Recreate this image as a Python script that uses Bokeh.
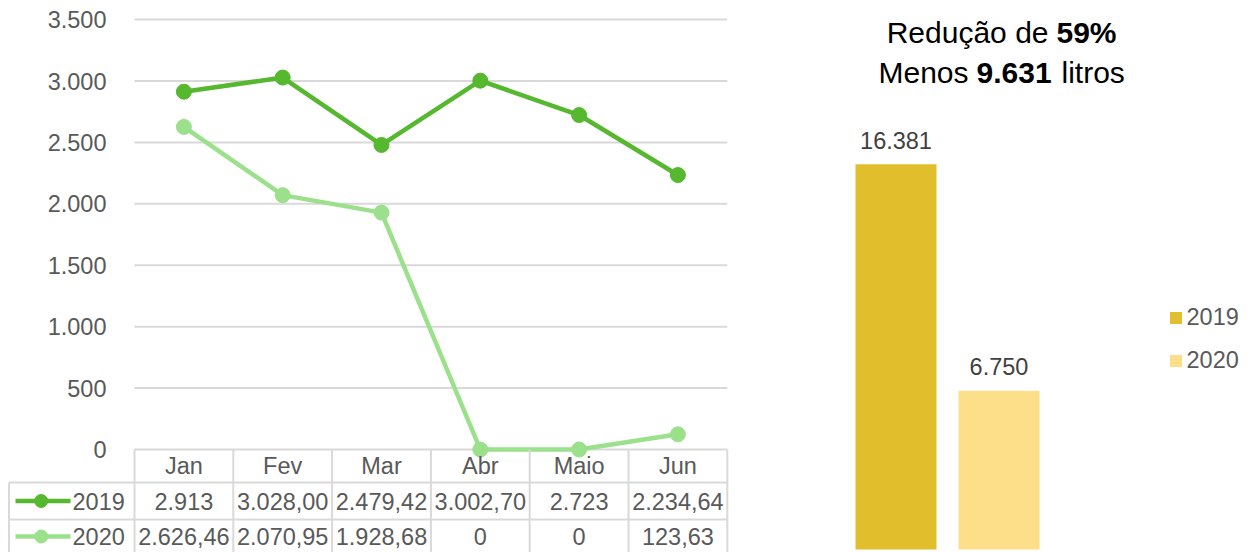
from bokeh.plotting import figure
from bokeh.layouts import row
from bokeh.models import Range1d, ColumnDataSource, Label, Legend, LegendItem
from bokeh.core.properties import value
from bokeh.embed import file_html
from bokeh.resources import INLINE

# ---------------- data ----------------
months = ["Jan", "Fev", "Mar", "Abr", "Maio", "Jun"]
series_names = ["2019", "2020"]
values_2019 = [2913, 3028.00, 2479.42, 3002.70, 2723, 2234.64]
values_2020 = [2626.46, 2070.95, 1928.68, 0, 0, 123.63]
table_2019 = ["2.913", "3.028,00", "2.479,42", "3.002,70", "2.723", "2.234,64"]
table_2020 = ["2.626,46", "2.070,95", "1.928,68", "0", "0", "123,63"]
y_ticks = [0, 500, 1000, 1500, 2000, 2500, 3000, 3500]
y_tick_labels = ["0", "500", "1.000", "1.500", "2.000", "2.500", "3.000", "3.500"]
bar_years = ["2019", "2020"]
bar_totals = [16381, 6750]


def fmt(v):
    return f"{v:,}".replace(",", ".")


reduction = bar_totals[0] - bar_totals[1]
reduction_pct = round(100 * reduction / bar_totals[0])

# ---------------- style ----------------
FONT = value("Liberation Sans")
FS = "23.5px"
GRAY = "#595959"
DARK = "#404040"
GRID = "#d9d9d9"
C19 = "#55B82F"
C20 = "#9BE08B"
BAR_COLORS = ["#E1BF2C", "#FDDF8A"]
H = 552

# ---------------- left: line chart + data table ----------------
W_L = 743
PX_COL = 98.8       # pixels per month column
PX_UNIT = 0.12283   # pixels per litre
X0 = 134            # x=0 in pixels
Y0 = 449            # value 0 in pixels (from top)


def lx(px):
    return (px - X0) / PX_COL


def ly(py):
    return (Y0 - py) / PX_UNIT


left = figure(width=W_L, height=H, output_backend="svg", toolbar_location=None,
              x_range=Range1d(-X0 / PX_COL, (W_L - X0) / PX_COL),
              y_range=Range1d(-(H - Y0) / PX_UNIT, Y0 / PX_UNIT),
              x_axis_location=None, y_axis_location=None, min_border=0)
left.grid.visible = False
left.outline_line_color = None
left.background_fill_color = "white"
left.border_fill_color = "white"

n = len(months)
xs = [i + 0.5 for i in range(n)]

# gridlines + tick labels
left.segment(x0=[0] * len(y_ticks), x1=[n] * len(y_ticks), y0=y_ticks, y1=y_ticks,
             line_color=GRID, line_width=2)
left.text(x=[lx(106)] * len(y_ticks), y=y_ticks, text=y_tick_labels,
          text_align="right", text_baseline="middle", text_font=FONT,
          text_font_size=FS, text_color=GRAY)

# series
left.line(xs, values_2019, line_color=C19, line_width=4.5)
left.scatter(xs, values_2019, size=15, fill_color=C19, line_color=C19)
left.line(xs, values_2020, line_color=C20, line_width=4.5)
left.scatter(xs, values_2020, size=15, fill_color=C20, line_color=C20)

# data table
y_bottom = left.y_range.start
row1 = ly(482)
row2 = ly(519)
x_leg = lx(8.5)
left.segment(x0=list(range(n + 1)), x1=list(range(n + 1)),
             y0=[0] * (n + 1), y1=[y_bottom] * (n + 1), line_color=GRID, line_width=2)
left.segment(x0=[x_leg, x_leg], x1=[n, n], y0=[row1, row2], y1=[row1, row2],
             line_color=GRID, line_width=2)
left.segment(x0=[x_leg], x1=[x_leg], y0=[row1], y1=[y_bottom], line_color=GRID, line_width=2)

left.text(x=xs, y=[ly(465.5)] * n, text=months, text_align="center", text_baseline="middle",
          text_font=FONT, text_font_size=FS, text_color=GRAY)
left.text(x=xs, y=[ly(500.5)] * n, text=table_2019, text_align="center", text_baseline="middle",
          text_font=FONT, text_font_size=FS, text_color=GRAY)
left.text(x=xs, y=[ly(536)] * n, text=table_2020, text_align="center", text_baseline="middle",
          text_font=FONT, text_font_size=FS, text_color=GRAY)

# legend keys inside table
for name, yy, col in [(series_names[0], ly(500.5), C19), (series_names[1], ly(536), C20)]:
    left.segment(x0=[lx(15)], x1=[lx(70)], y0=[yy], y1=[yy], line_color=col, line_width=4.5)
    left.scatter([lx(40.7)], [yy], size=13, fill_color=col, line_color=col)
    left.text(x=[lx(72)], y=[yy], text=[name], text_align="left", text_baseline="middle",
              text_font=FONT, text_font_size=FS, text_color=GRAY)

# ---------------- right: totals bar chart ----------------
W_R = 507
LEFT_R = W_L
PX_BAR = 103
BX0 = 895.5 - LEFT_R
PX_U2 = 0.02352
BY0 = 549


def rx(px):
    return (px - LEFT_R - BX0) / PX_BAR


def ry(py):
    return (BY0 - py) / PX_U2


right = figure(width=W_R, height=H, output_backend="svg", toolbar_location=None,
               x_range=Range1d(-BX0 / PX_BAR, (W_R - BX0) / PX_BAR),
               y_range=Range1d(-(H - BY0) / PX_U2, BY0 / PX_U2),
               x_axis_location=None, y_axis_location=None, min_border=0)
right.grid.visible = False
right.outline_line_color = None

idx = list(range(len(bar_years)))
src = ColumnDataSource(dict(x=idx, top=bar_totals, year=bar_years, color=BAR_COLORS,
                            label=[fmt(v) for v in bar_totals]))
bars = right.vbar(x="x", top="top", bottom=0, width=81 / PX_BAR, fill_color="color",
                  line_color=None, source=src)
right.text(x="x", y="top", text="label", y_offset=-24, text_align="center",
           text_baseline="middle", text_font=FONT, text_font_size=FS,
           text_color=DARK, source=src)

legend = Legend(items=[LegendItem(label=y, renderers=[bars], index=i) for i, y in enumerate(bar_years)],
                location=(424.5, 178), orientation="vertical",
                glyph_width=15, glyph_height=15, label_height=15, label_standoff=4,
                spacing=16, padding=0, margin=0, border_line_color=None,
                background_fill_alpha=0, label_text_font="Liberation Sans",
                label_text_font_size=FS, label_text_color=GRAY)
right.add_layout(legend)

# title
title_parts = [
    ("Redução de", "normal", "right", 1048, 32),
    (f"{reduction_pct}%", "bold", "left", 1056, 32),
    ("Menos", "normal", "right", 968, 72),
    (fmt(reduction), "bold", "left", 976, 72),
    ("litros", "normal", "left", 1061, 72),
]
for txt, style, align, px_, py_ in title_parts:
    right.add_layout(Label(x=rx(px_), y=ry(py_), text=txt, text_font="Liberation Sans",
                           text_font_size="30px", text_font_style=style, text_color="black",
                           text_align=align, text_baseline="middle"))

layout = row(left, right)
open("out.html", "w").write(file_html(layout, INLINE))
